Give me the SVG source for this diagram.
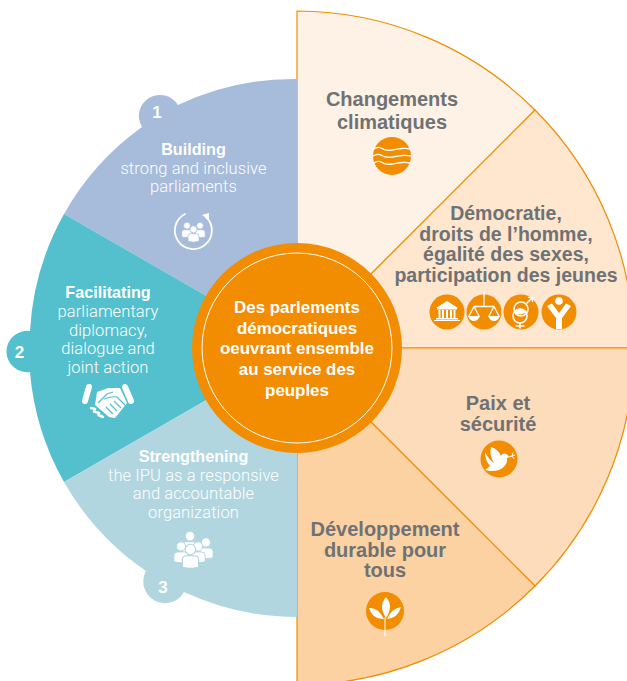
<svg xmlns="http://www.w3.org/2000/svg" width="627" height="681" viewBox="0 0 627 681">
<style>
.ti{font-family:"Liberation Sans",Arial,sans-serif;font-weight:700;font-size:20px;fill:#6f7274;text-anchor:middle}
.td{font-size:19.500px}
.h{font-family:"Liberation Sans",Arial,sans-serif;font-weight:700;font-size:16.200px;fill:#fff;text-anchor:middle}
.b{font-family:"Roboto","Liberation Sans",sans-serif;font-weight:300;font-size:16.500px;letter-spacing:.1px;fill:#fff;text-anchor:middle}
.n{font-family:"Liberation Sans",Arial,sans-serif;font-weight:700;font-size:17px;fill:#fff;text-anchor:middle}
.c{font-family:"Liberation Sans",Arial,sans-serif;font-weight:700;font-size:16.900px;fill:#fff;text-anchor:middle}
.o{fill:#f28c00}
.w{fill:#fff}
.wl{fill:none;stroke:#fff;stroke-linecap:round}
.seg{stroke:#f28c00;stroke-width:1.2}
</style>
<defs>
<g id="person"><circle cx="0" cy="-6" r="4.200"/><path d="M-6.500 8V2Q-6.500-1-3-1H3Q6.500-1 6.500 2V8Q0 10-6.500 8Z"/></g>
</defs>
<g id="connectors"></g>
<g id="seg-climat"><path class="seg" fill="#fef2e6" d="M297 348V11A337 337 0 0 1 535 110Z"/>
<text class="ti" x="392" y="106">Changements</text><text class="ti" x="392" y="129">climatiques</text>
<circle class="o" cx="392" cy="156" r="19"/>
<g class="wl" stroke-width="1.4"><path d="M373.500 149Q378 146 382 148.500T392 150T402 148.500T410.500 149"/><path d="M373 156Q378 153 382 155.500T392 157T402 155.500T411 156"/><path d="M374 163Q378 160 382 162.500T392 164T402 162.500T410 163"/></g></g>
<g id="seg-democratie"><path class="seg" fill="#fee6cf" d="M297 348L535 110A337 337 0 0 1 634 348Z"/>
<text class="ti td" x="506" y="220">Démocratie,</text><text class="ti td" x="506" y="240.500">droits de l’homme,</text><text class="ti td" x="506" y="261">égalité des sexes,</text><text class="ti td" x="506" y="281.500">participation des jeunes</text>
<circle class="o" cx="447" cy="312" r="17.500"/><circle class="o" cx="484" cy="312" r="17.500"/><circle class="o" cx="521" cy="312" r="17.500"/><circle class="o" cx="559" cy="312" r="17.500"/>
<g class="w"><path d="M447 301L458 308H436Z"/><rect x="437" y="308" width="20" height="1.500"/><rect x="438.500" y="310" width="2" height="8"/><rect x="442" y="310" width="2" height="8"/><rect x="446" y="310" width="2" height="8"/><rect x="450" y="310" width="2" height="8"/><rect x="453.500" y="310" width="2" height="8"/><rect x="436" y="318" width="22" height="1.500"/><rect x="434" y="320" width="26" height="1"/></g>
<g><path class="wl" stroke-width="1.300" d="M484 292V306M474 306.500H494M474 306.500L469 316M474 306.500L479 316M494 306.500L489 316M494 306.500L499 316"/><path class="w" d="M468 316H480Q478 321 474 321T468 316ZM488 316H500Q498 321 494 321T488 316Z"/></g>
<g><path class="w" d="M514 312Q520 307 526 312Q520 317 514 312Z"/><circle class="wl" cx="521" cy="309" r="7" stroke-width="1.600"/><circle class="wl" cx="520" cy="316" r="7" stroke-width="1.600"/><path class="wl" stroke-width="1.500" d="M520 323V328M516 326H524M527 303L532 298M528.500 297.500H532.500V301.500"/></g>
<g class="w"><circle cx="559" cy="301" r="3.800"/><path d="M547 306L552 303.500L559 313L566 303.500L571 306L562 318V329H556V318Z"/></g></g>
<g id="seg-paix"><path class="seg" fill="#fddcbb" d="M297 348H634A337 337 0 0 1 535 586Z"/>
<text class="ti" x="498" y="410">Paix et</text><text class="ti" x="498" y="431">sécurité</text>
<circle class="o" cx="499" cy="459" r="18.500"/>
<path class="w" d="M485 452Q489 460 494 463Q489 455 491 447Q498 449 501 456Q502 453 505 453.500Q508 454 509 457L507 458Q508 466 499 470Q492 472 485 470L490 466Q485 460 485 452Z"/><path class="wl" stroke-width="0.900" d="M509 457L515 455M512 456L513 453M512 456L514 458.500"/></g>
<g id="seg-dev"><path class="seg" fill="#fcd2a3" d="M297 348L535 586A337 337 0 0 1 297 685Z"/>
<text class="ti" x="385" y="536">Développement</text><text class="ti" x="385" y="557">durable pour</text><text class="ti" x="385" y="577">tous</text>
<circle class="o" cx="385" cy="611" r="19"/>
<path class="w" d="M386 597Q394 606 386 618Q378 606 386 597ZM369 608Q378 607 384 619Q373 620 369 608ZM401 607Q398 618 387 619Q392 608 401 607Z"/><path class="wl" stroke-width="1" d="M385 618V636"/></g>
<g id="seg-building"><path fill="#a7bbda" d="M297 348L64 214A269 269 0 0 1 142 127A19 19 0 1 1 178 105A269 269 0 0 1 297 79Z"/>
<text class="n" x="157" y="118">1</text>
<text class="h" x="193.500" y="155">Building</text><text class="b" x="193.500" y="174">strong and inclusive</text><text class="b" x="193.500" y="192">parliaments</text>
<path class="wl" stroke-width="1.800" d="M206 217A18.500 18.500 0 1 1 185 214"/><path class="w" d="M202 215L209 213L209 220Z"/>
<g class="w" stroke="#a7bbda" stroke-width=".9"><use href="#person" transform="translate(187 230.500) scale(.8)"/><use href="#person" transform="translate(200 230.500) scale(.8)"/><use href="#person" transform="translate(193.500 234.500) scale(.85)"/></g></g>
<g id="seg-facilitating"><path fill="#54c0ce" d="M297 348L64 214A269 269 0 0 0 30 331A20.700 20.700 0 1 0 30 372A269 269 0 0 0 64 482Z"/>
<text class="n" x="19.500" y="357.500">2</text>
<text class="h" x="108" y="298">Facilitating</text><text class="b" x="108" y="317">parliamentary</text><text class="b" x="108" y="336">diplomacy,</text><text class="b" x="108" y="354">dialogue and</text><text class="b" x="108" y="373">joint action</text>
<path class="wl" stroke-width="6" d="M89 387L85 401M125 387L131 401"/>
<path class="w" d="M97 392L108 388H120L127 403L115 418L109 417L95 405Z"/>
<path d="M98 403L107 394L113 392M104 399Q112 396 117 397L125 405M106 407L113 414M110 404L117 411M114 401L121 408" fill="none" stroke="#54c0ce" stroke-width="1.200"/>
<path class="wl" stroke-width="2.500" d="M91 408L95 409M94 411.500L99 413M98.500 415L103 417"/></g>
<g id="seg-strengthening"><path fill="#b1d6df" d="M297 348L64 482A269 269 0 0 0 146 571A20 20 0 0 0 184 592A269 269 0 0 0 297 617Z"/>
<text class="n" x="163" y="593">3</text>
<text class="h" x="193.500" y="462">Strengthening</text><text class="b" x="193.500" y="481">the IPU as a responsive</text><text class="b" x="193.500" y="499">and accountable</text><text class="b" x="193.500" y="518">organization</text>
<g class="w" stroke="#b1d6df" stroke-width=".9"><use href="#person" transform="translate(190 543) scale(1.150)"/><use href="#person" transform="translate(206 549) scale(1.100)"/><use href="#person" transform="translate(181 553) scale(1.100)"/><use href="#person" transform="translate(198 553) scale(1.100)"/><use href="#person" transform="translate(190.500 557) scale(1.250)"/></g></g>
<g id="hub"><circle class="o" cx="297" cy="348" r="105"/><circle cx="297" cy="348" r="95" fill="none" stroke="#fff" stroke-width="1"/>
<text class="c" x="297" y="313">Des parlements</text><text class="c" x="297" y="334">démocratiques</text><text class="c" x="297" y="354">oeuvrant ensemble</text><text class="c" x="297" y="375">au service des</text><text class="c" x="297" y="396">peuples</text></g>
</svg>
